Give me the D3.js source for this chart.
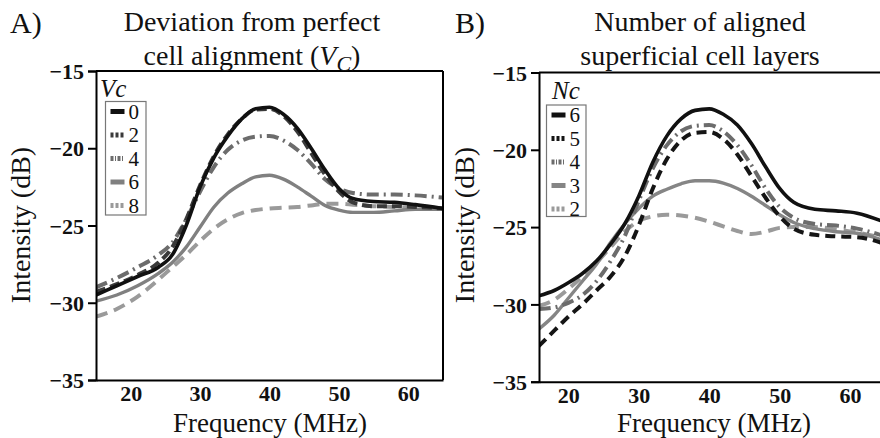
<!DOCTYPE html>
<html><head><meta charset="utf-8">
<script src="https://cdn.jsdelivr.net/npm/d3@7"></script>
<style>
html,body{margin:0;padding:0;background:#fff;}
svg{display:block;}
svg text{font-family:"Liberation Serif","Times New Roman",Times,"DejaVu Serif",serif;}
</style></head>
<body><svg id="c" width="880" height="438"></svg>
<script>
// ---------- DATA ----------
const freqA = [15,18,21,24,26,28,30,32,34,36,38,40,42,44,46,48,50,52,55,58,61,65];
const vc0 = [-29.5,-28.9,-28.3,-27.7,-26.9,-25.0,-22.5,-20.6,-19.2,-18.1,-17.45,-17.35,-17.8,-18.7,-20.0,-21.4,-22.6,-23.25,-23.45,-23.5,-23.65,-23.9];
const vc2 = [-29.3,-28.8,-28.2,-27.4,-26.4,-24.6,-22.4,-20.5,-19.1,-18.1,-17.5,-17.45,-17.9,-18.9,-20.3,-21.7,-22.8,-23.5,-23.75,-23.75,-23.8,-23.9];
const vc4 = [-29.0,-28.4,-27.7,-26.9,-26.1,-24.6,-22.8,-21.2,-20.1,-19.5,-19.25,-19.2,-19.5,-20.1,-21.0,-22.0,-22.6,-22.9,-23.0,-23.0,-23.05,-23.2];
const vc6 = [-29.9,-29.5,-28.9,-28.1,-27.4,-26.4,-25.1,-23.8,-22.9,-22.3,-21.85,-21.75,-22.0,-22.5,-23.1,-23.7,-24.0,-24.15,-24.15,-24.05,-23.95,-23.95];
const vc8 = [-30.9,-30.4,-29.6,-28.5,-27.7,-26.9,-26.0,-25.2,-24.6,-24.2,-24.0,-23.9,-23.85,-23.8,-23.7,-23.6,-23.6,-23.65,-23.75,-23.8,-23.85,-23.9];

const freqB = [15.8,18,20,22,24,26,28,30,32,34,36,38,40,42,44,46,48,50,52,55,58,61,65];
const nc6 = [-29.45,-29.1,-28.6,-28.0,-27.2,-26.1,-24.8,-23.0,-20.8,-19.1,-18.0,-17.45,-17.35,-17.7,-18.4,-19.6,-21.1,-22.5,-23.4,-23.85,-23.95,-24.1,-24.7];
const nc5 = [-32.7,-31.7,-30.8,-30.0,-29.1,-28.2,-26.9,-24.9,-22.5,-20.6,-19.4,-18.9,-18.85,-19.3,-20.3,-21.7,-23.1,-24.3,-25.1,-25.5,-25.6,-25.65,-26.1];
const nc4 = [-30.3,-30.2,-29.9,-29.4,-28.5,-27.2,-25.6,-23.3,-21.2,-19.7,-18.8,-18.45,-18.4,-18.8,-19.7,-21.0,-22.5,-23.7,-24.4,-24.8,-24.9,-25.1,-25.6];
const nc3 = [-31.6,-30.7,-29.6,-28.5,-27.4,-26.0,-24.8,-23.8,-23.0,-22.55,-22.2,-22.0,-22.0,-22.15,-22.5,-23.0,-23.6,-24.2,-24.7,-25.1,-25.3,-25.4,-25.9];
const nc2 = [-30.1,-29.7,-29.0,-28.2,-27.3,-26.3,-25.3,-24.6,-24.3,-24.2,-24.25,-24.4,-24.65,-24.95,-25.25,-25.45,-25.3,-25.05,-25.0,-25.0,-25.15,-25.35,-25.75];

const labelsA = ["0","2","4","6","8"];
const labelsB = ["6","5","4","3","2"];
const xTicks = [20,30,40,50,60];
const yTicks = [-15,-20,-25,-30,-35];

// ---------- STYLES ----------
const stylesA = [
  {c:"#111", w:3.6, d:null},
  {c:"#3a3a3a", w:4, d:"10,5"},
  {c:"#6c6c6c", w:4, d:"12,5,2,5"},
  {c:"#808080", w:3.4, d:null},
  {c:"#9a9a9a", w:4, d:"12,7"}
];
const stylesB = [
  {c:"#111", w:3.6, d:null},
  {c:"#151515", w:4, d:"10,6"},
  {c:"#6c6c6c", w:4, d:"12,5,2,5"},
  {c:"#858585", w:3.4, d:null},
  {c:"#9a9a9a", w:4, d:"12,7"}
];

const FONT = '"Liberation Serif","Times New Roman",Times,"DejaVu Serif",serif';
const svg = d3.select("#c");

function panel(o){
  const x = d3.scaleLinear().domain(o.xd).range(o.xr);
  const y = d3.scaleLinear().domain([-35,-15]).range(o.yr);
  const g = svg.append("g").attr("font-family",FONT);
  const cp = "clip"+o.id;
  svg.append("clipPath").attr("id",cp).append("rect")
    .attr("x",o.xr[0]).attr("y",o.yr[1]).attr("width",o.xr[1]-o.xr[0]).attr("height",o.yr[0]-o.yr[1]);
  const line = d3.line().x(d=>x(d[0])).y(d=>y(d[1])).curve(d3.curveMonotoneX);
  const lg = g.append("g").attr("clip-path",`url(#${cp})`);
  for(let i=o.series.length-1;i>=0;i--){
    const s=o.styles[i];
    const pts=o.freq.map((f,j)=>[f,o.series[i][j]]);
    lg.append("path").attr("d",line(pts)).attr("fill","none")
      .attr("stroke",s.c).attr("stroke-width",s.w)
      .attr("stroke-dasharray",s.d);
  }
  const ya = g.append("g").attr("transform",`translate(${o.xr[0]},0)`)
    .call(d3.axisLeft(y).tickValues(yTicks).tickSize(8).tickPadding(4).tickFormat(d=>"\u2212"+Math.abs(d)));
  const xa = g.append("g").attr("transform",`translate(0,${o.yr[0]})`)
    .call(d3.axisBottom(x).tickValues(xTicks).tickSize(0).tickPadding(5));
  [ya,xa].forEach(a=>{
    a.attr("font-family",FONT);
    a.select(".domain").attr("stroke","#000").attr("stroke-width",2);
    a.selectAll(".tick line").attr("stroke","#000").attr("stroke-width",2);
    a.selectAll("text").attr("font-family",FONT).attr("font-weight","bold")
      .attr("font-size",22).attr("fill","#111");
  });
  xa.selectAll("text").attr("dy","0.72em");
  ya.selectAll("text").attr("dy","0.35em");
  g.append("line").attr("x1",o.xr[0]).attr("x2",o.boxRight).attr("y1",o.yr[1]).attr("y2",o.yr[1])
    .attr("stroke","#000").attr("stroke-width",2);
  if(o.rightBorder){
    g.append("line").attr("x1",o.xr[1]).attr("x2",o.xr[1]).attr("y1",o.yr[1]).attr("y2",o.yr[0])
      .attr("stroke","#000").attr("stroke-width",2);
  }
  g.append("text").attr("x",o.xlx).attr("y",432).attr("text-anchor","middle")
    .attr("font-size",27).attr("fill","#111").text("Frequency (MHz)");
  g.append("text").attr("transform",`translate(${o.ylx},225) rotate(-90)`).attr("text-anchor","middle")
    .attr("font-size",28).attr("fill","#111").text("Intensity (dB)");
  g.append("text").attr("x",o.lx).attr("y",33).attr("font-size",30).attr("fill","#111").text(o.letter);
  g.append("text").attr("x",o.tx).attr("y",31).attr("text-anchor","middle").attr("font-size",28).attr("fill","#111").text(o.t1);
  const t2 = g.append("text").attr("x",o.tx).attr("y",65).attr("text-anchor","middle").attr("font-size",28).attr("fill","#111");
  o.t2(t2);
  const L = o.leg;
  g.append("rect").attr("x",L.x).attr("y",L.y).attr("width",L.w).attr("height",L.h)
    .attr("fill","#fff").attr("stroke","#777").attr("stroke-width",1.2);
  g.append("text").attr("x",L.tx).attr("y",L.ty).attr("font-size",25).attr("font-style","italic").attr("fill","#111").text(L.title);
  o.labels.forEach((lab,i)=>{
    const s=o.styles[i]; const cy=L.y+10+i*23.5;
    g.append("line").attr("x1",L.x+5).attr("x2",L.x+19).attr("y1",cy).attr("y2",cy)
      .attr("stroke",s.c).attr("stroke-width",5)
      .attr("stroke-dasharray", s.d? (s.d.split(",").length>2 ? "3,1.5,1,1.5":"3,2") : null);
    g.append("text").attr("x",L.x+23).attr("y",cy).attr("dy","0.35em").attr("font-size",21).attr("fill","#111").text(lab);
  });
}

panel({id:"A", xd:[15,65], xr:[96,443], yr:[380,71], boxRight:443, rightBorder:true,
  freq:freqA, series:[vc0,vc2,vc4,vc6,vc8], styles:stylesA, labels:labelsA,
  xlx:270, ylx:30, lx:10, letter:"A)", tx:252,
  t1:"Deviation from perfect",
  t2:t=>{t.append("tspan").text("cell alignment (");
         t.append("tspan").attr("font-style","italic").text("V");
         t.append("tspan").attr("font-style","italic").attr("font-size",22).attr("dy",6).text("C");
         t.append("tspan").attr("dy",-6).text(")");},
  leg:{x:105.5,y:101.5,w:40.5,h:113.5,title:"Vc",tx:100,ty:97}
});
panel({id:"B", xd:[15.84,65.1], xr:[539,886], yr:[381.7,72.5], boxRight:880, rightBorder:false,
  freq:freqB, series:[nc6,nc5,nc4,nc3,nc2], styles:stylesB, labels:labelsB,
  xlx:714, ylx:474, lx:455, letter:"B)", tx:700,
  t1:"Number of aligned",
  t2:t=>{t.text("superficial cell layers");},
  leg:{x:546.5,y:105,w:39.5,h:111.5,title:"Nc",tx:552,ty:99}
});
</script></body></html>
